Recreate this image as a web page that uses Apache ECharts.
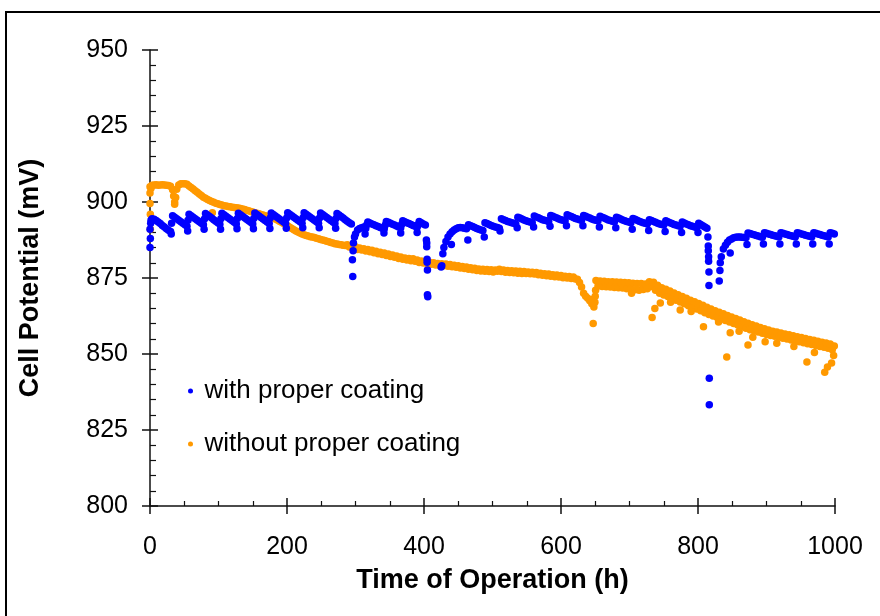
<!DOCTYPE html>
<html><head><meta charset="utf-8">
<script src="https://cdn.jsdelivr.net/npm/echarts@6/dist/echarts.min.js"></script>
<style>html,body{margin:0;padding:0;background:#fff}#c{width:880px;height:616px}</style>
</head><body><div id="c"></div>
<script>
// sampling grid of the two recordings (hours)
const timeStart = 0;
const timeStep = 3;

// Cell potential (mV) with proper coating, one value per grid time (null = no data)
const blueValues = [
891,894.5,894.3,893.9,893.4,892.9,892.3,891.8,
891.2,890.7,890.3,895.5,895,894.5,894,893.5,
893,892.5,892,896,895.5,895,894.5,894,
893.5,893,892.5,896.2,895.7,895.2,894.7,894.2,
893.7,893.2,892.7,896.3,895.8,895.3,894.8,894.3,
893.8,893.3,892.8,896.3,895.8,895.3,894.8,894.3,
893.8,893.3,892.8,896.4,895.9,895.4,894.9,894.4,
893.9,893.4,892.9,896.4,895.9,895.4,894.9,894.4,
893.9,893.4,892.9,896.5,896,895.5,895,894.5,
894,893.5,893,896.5,896,895.5,895,894.5,
894,893.5,893,896.4,895.9,895.4,894.9,894.4,
893.9,893.4,892.9,896.2,895.7,895.2,894.7,894.2,
893.7,893.2,892.8,886.5,889.5,890.8,891.3,891.5,
891.8,891.3,893.4,893.1,892.8,892.5,892.2,891.9,
891.6,891.4,891.2,893.6,893.3,893,892.7,892.4,
892.1,891.8,891.5,893.8,893.5,893.2,892.9,892.6,
892.3,892,891.7,893.6,893.2,892.8,892.4,null,
null,null,null,null,null,null,879,885,
887,888.5,889.5,890.2,890.8,891.2,891.5,891.6,
891.5,891.4,891.2,892.5,892.2,891.9,891.6,891.3,
891,890.8,890.6,893.2,892.9,892.6,892.3,892,
891.8,891.6,891.4,894.5,894.2,893.9,893.6,893.4,
893.2,893,892.8,895,894.7,894.4,894.1,893.8,
893.6,893.4,893.2,895.4,895.1,894.8,894.5,894.2,
894,893.8,893.6,895.6,895.3,895,894.7,894.4,
894.2,894,893.8,895.8,895.5,895.2,894.9,894.6,
894.4,894.2,894,895.6,895.3,895,894.7,894.4,
894.2,894,893.8,895.3,895,894.7,894.4,894.1,
893.9,893.7,893.5,895,894.7,894.4,894.1,893.8,
893.6,893.4,893.2,894.6,894.3,894,893.7,893.4,
893.2,893,892.8,894.2,893.9,893.6,893.3,893,
892.8,892.6,892.4,893.8,893.5,893.2,892.9,892.6,
892.4,892.2,892,893.4,893.1,892.8,892.5,892.2,
892,891.8,891.6,893,892.6,892.2,891.8,891.4,
null,null,null,null,null,874,882,884.5,
885.8,886.8,887.5,887.8,888.2,888.4,888.5,888.5,
888.4,888.3,888.2,889.8,889.6,889.4,889.2,889,
888.8,888.6,888.4,889.9,889.7,889.5,889.3,889.1,
888.9,888.7,888.5,889.9,889.7,889.5,889.3,889.1,
888.9,888.7,888.5,889.9,889.7,889.5,889.3,889.1,
888.9,888.7,888.5,889.9,889.7,889.5,889.3,889.1,
888.9,888.7,888.5,889.9,889.7,889.5
];
// extra readings with proper coating off the grid: [hour, mV]
const blueExtra = [
[0,885],[0.5,888],[1,893],[1.5,894],
[31.5,893],[31,889.5],[55.5,894],[55,890.5],[79.5,894.4],[79,891],
[103.5,894.5],[103,891],[127.5,894.6],[127,891.2],[151.5,894.6],[151,891.2],
[175.5,894.7],[175,891.3],[199.5,894.7],[199,891.4],[223.5,894.8],[223,891.5],
[247.5,894.7],[247,891.5],[271.5,894.6],[271,891.4],
[295.5,881],[296,875.5],[296.5,884],[298.5,888.5],
[314,889.5],[316.5,892.5],[341.5,889.8],[343.5,892.4],[366,889.8],[367.5,892.7],[390,890],[391.5,892.6],
[403.5,887.5],[404,886.5],[404,885.3],[404.5,881.2],[404.5,880.2],[405,877.6],[405,869.5],[405.5,868.8],
[425,878.6],[427.5,883],[440,886],[464,887.5],[488,888.5],[511,890.5],[536,891.5],[560,891.8],
[584,892],[608,892.2],[632,892.2],[656,891.8],[680,891.5],[704,891],[728,890.6],[752,890.3],[776,890],[800,890],
[814.5,888.5],[815,885.5],[815,884],[815.5,882],[815.5,880.5],[816,877],[816,872.5],[816.5,842],[816.5,833.3],
[832,877.5],[832.5,880],[847,883.2],[871.5,886],[895.5,886.2],[919.5,886.2],[943.5,886.2],[967.5,886.2],[991.5,886.2]
];

// Cell potential (mV) without proper coating, one value per grid time
const orangeValues = [
905,905.5,905.6,905.7,905.5,905.6,905.7,905.6,
905.5,905.4,905.2,904,900,904.2,905.6,906,
906,906,905.8,905.3,904.8,904.3,903.7,903.2,
902.6,902.1,901.6,901.2,900.8,900.5,900.2,899.9,
899.6,899.4,899.2,899,898.8,898.7,898.5,898.4,
898.3,898.2,898.1,898,897.9,897.7,897.5,897.3,
897.1,896.9,896.7,896.5,896.3,896.1,895.9,895.7,
895.5,895.3,895.1,894.9,894.7,894.4,894.1,893.7,
893.3,892.9,892.5,892.1,891.7,891.3,890.9,890.5,
890.1,889.8,889.5,889.2,889,888.8,888.6,888.5,
888.3,888.1,887.9,887.7,887.5,887.3,887.1,886.9,
886.7,886.5,886.3,886.2,886,885.9,885.8,885.7,
885.9,885.2,885.6,884.8,885.3,884.4,884.9,884.2,
884.6,883.9,884.4,883.6,884.1,883.3,883.8,883,
883.5,882.7,883.2,882.4,882.9,882.1,882.6,881.8,
882.2,881.4,881.9,881.2,881.6,880.9,881.4,880.7,
881.3,880.5,880.9,880.1,880.6,879.9,880.4,879.7,
880.2,879.5,880,879.3,879.8,879.1,879.7,879,
879.6,878.9,879.4,878.7,879.2,878.5,879,878.3,
878.8,878.1,878.6,877.9,878.4,877.7,878.2,877.5,
878,877.3,877.9,877.2,877.8,877.1,877.7,877,
877.6,877.2,877.9,877.1,877.6,876.9,877.5,876.8,
877.4,876.7,877.3,876.6,877.2,876.5,877.1,876.5,
877,876.4,876.9,876.3,876.8,876.1,876.6,875.9,
876.4,875.7,876.3,875.6,876.1,875.4,876,875.3,
875.8,875.1,875.6,875,875.5,874.8,875.3,874.7,
874.6,873.5,872,870,869,868.3,867.5,866.5,
865.5,874.2,872.4,874,872.2,873.9,872.1,873.8,
872,873.8,871.9,873.7,871.8,873.6,871.7,873.5,
871.5,873.4,871.3,873.3,871.1,873.2,871,873.2,
871.2,873,871.5,873.8,872.2,873.6,871,872.6,
870,871.8,869.4,871.3,868.9,870.7,868.3,870.1,
867.7,869.5,867.1,868.9,866.5,868.3,865.9,867.7,
865.4,867.2,864.8,866.6,864.2,866,863.6,865.4,
863,864.8,862.5,864.2,862,863.7,861.5,863.2,
861,862.7,860.5,862.2,860,861.7,859.5,861.2,
859,860.6,858.5,860.1,858,859.6,857.6,859.2,
857.2,858.7,856.8,858.3,856.4,857.9,856.1,857.5,
855.8,857.2,855.5,856.9,855.2,856.6,854.9,856.3,
854.6,856,854.3,855.7,854,855.4,853.7,855.1,
853.4,854.8,853.1,854.5,852.8,854.2,852.5,853.9,
852.2,853.6,851.9,853.3,851.4,852.6
];
// extra readings without proper coating off the grid: [hour, mV]
const orangeExtra = [
[0,903],[0,899.5],[0.5,896],[0.5,891],[1.5,904.5],[34.5,902],[36,899.3],[37.5,901.5],[91,896.5],
[646,868],[647,860],[649.5,867],[650,869],[650.5,871],
[703,870],[733,862],[737,865],[745,866.8],[760,867],[774,864.5],[790,864],[808,859],[830,860.5],
[842,849],[847,857],[860,857.5],[873,853],[880,855.5],[898,854],[915,853.5],[940,852.5],
[959,847.4],[970,850.5],[985,844],[989,845.7],[995,847],[998,849.5]
];

const seriesNames = ['with proper coating', 'without proper coating'];
const seriesColors = ['#0000ff', '#ff9900'];
const xMin = 0, xMax = 1000, xStep = 200;
const yMin = 800, yMax = 950, yStep = 25;
const xTitle = 'Time of Operation (h)';
const yTitle = 'Cell Potential (mV)';

function toPoints(vals, extra) {
  const out = [];
  vals.forEach(function (v, i) { if (v !== null) out.push([timeStart + i * timeStep, v]); });
  return out.concat(extra);
}

const FONT = "'Liberation Sans', Arial, sans-serif";
const chart = echarts.init(document.getElementById('c'), null, {renderer: 'canvas'});
const axisColor = '#111';
const plain = function (v) { return String(v); };

chart.setOption({
  animation: false,
  backgroundColor: '#fff',
  grid: {left: 150, right: 45, top: 50, bottom: 110, containLabel: false},
  legend: {
    orient: 'vertical', left: 188, top: 378, padding: 0,
    itemWidth: 18, itemHeight: 5, itemGap: 27, icon: 'circle',
    selectedMode: false,
    textStyle: {fontSize: 26, lineHeight: 26, fontFamily: FONT, color: '#000'},
    data: seriesNames
  },
  graphic: [{
    type: 'rect', silent: true, z: -1,
    shape: {x: 6, y: 12, width: 1000, height: 1000},
    style: {fill: 'none', stroke: '#000', lineWidth: 2}
  }],
  xAxis: [{
    type: 'value', min: xMin, max: xMax, interval: xStep, position: 'bottom',
    axisLine: {show: true, onZero: false, lineStyle: {color: axisColor, width: 1.5}},
    axisTick: {show: true, length: 8, lineStyle: {color: axisColor, width: 1.5}},
    axisLabel: {fontSize: 25, color: '#000', fontFamily: FONT, margin: 29, formatter: plain},
    splitLine: {show: false},
    name: xTitle, nameLocation: 'middle', nameGap: 61,
    nameTextStyle: {fontSize: 27, fontWeight: 'bold', color: '#000', fontFamily: FONT}
  }, {
    type: 'value', min: xMin, max: xMax, interval: xStep, position: 'bottom',
    axisLine: {show: false, onZero: false},
    axisTick: {show: true, inside: true, length: 8, lineStyle: {color: axisColor, width: 1.5}},
    minorTick: {show: true, splitNumber: 4, length: 5, lineStyle: {color: axisColor, width: 1.2}},
    axisLabel: {show: false}, splitLine: {show: false}
  }],
  yAxis: [{
    type: 'value', min: yMin, max: yMax, interval: yStep, position: 'left',
    axisLine: {show: true, onZero: false, lineStyle: {color: axisColor, width: 1.5}},
    axisTick: {show: true, length: 8, lineStyle: {color: axisColor, width: 1.5}},
    axisLabel: {fontSize: 25, color: '#000', fontFamily: FONT, margin: 22, formatter: plain},
    splitLine: {show: false},
    name: yTitle, nameLocation: 'middle', nameGap: 106, nameRotate: 90,
    nameTextStyle: {fontSize: 27, fontWeight: 'bold', color: '#000', fontFamily: FONT}
  }, {
    type: 'value', min: yMin, max: yMax, interval: yStep, position: 'left',
    axisLine: {show: false, onZero: false},
    axisTick: {show: true, inside: true, length: 8, lineStyle: {color: axisColor, width: 1.5}},
    minorTick: {show: true, splitNumber: 5, length: 6, lineStyle: {color: axisColor, width: 1.2}},
    axisLabel: {show: false}, splitLine: {show: false}
  }],
  series: [{
    name: seriesNames[0], type: 'scatter', xAxisIndex: 0, yAxisIndex: 0, z: 3,
    symbol: 'circle', symbolSize: 7.5,
    itemStyle: {color: seriesColors[0], opacity: 1},
    emphasis: {disabled: true},
    data: toPoints(blueValues, blueExtra)
  }, {
    name: seriesNames[1], type: 'scatter', xAxisIndex: 0, yAxisIndex: 0, z: 2,
    symbol: 'circle', symbolSize: 7.5,
    itemStyle: {color: seriesColors[1], opacity: 1},
    emphasis: {disabled: true},
    data: toPoints(orangeValues, orangeExtra)
  }]
});
</script>
</body></html>
